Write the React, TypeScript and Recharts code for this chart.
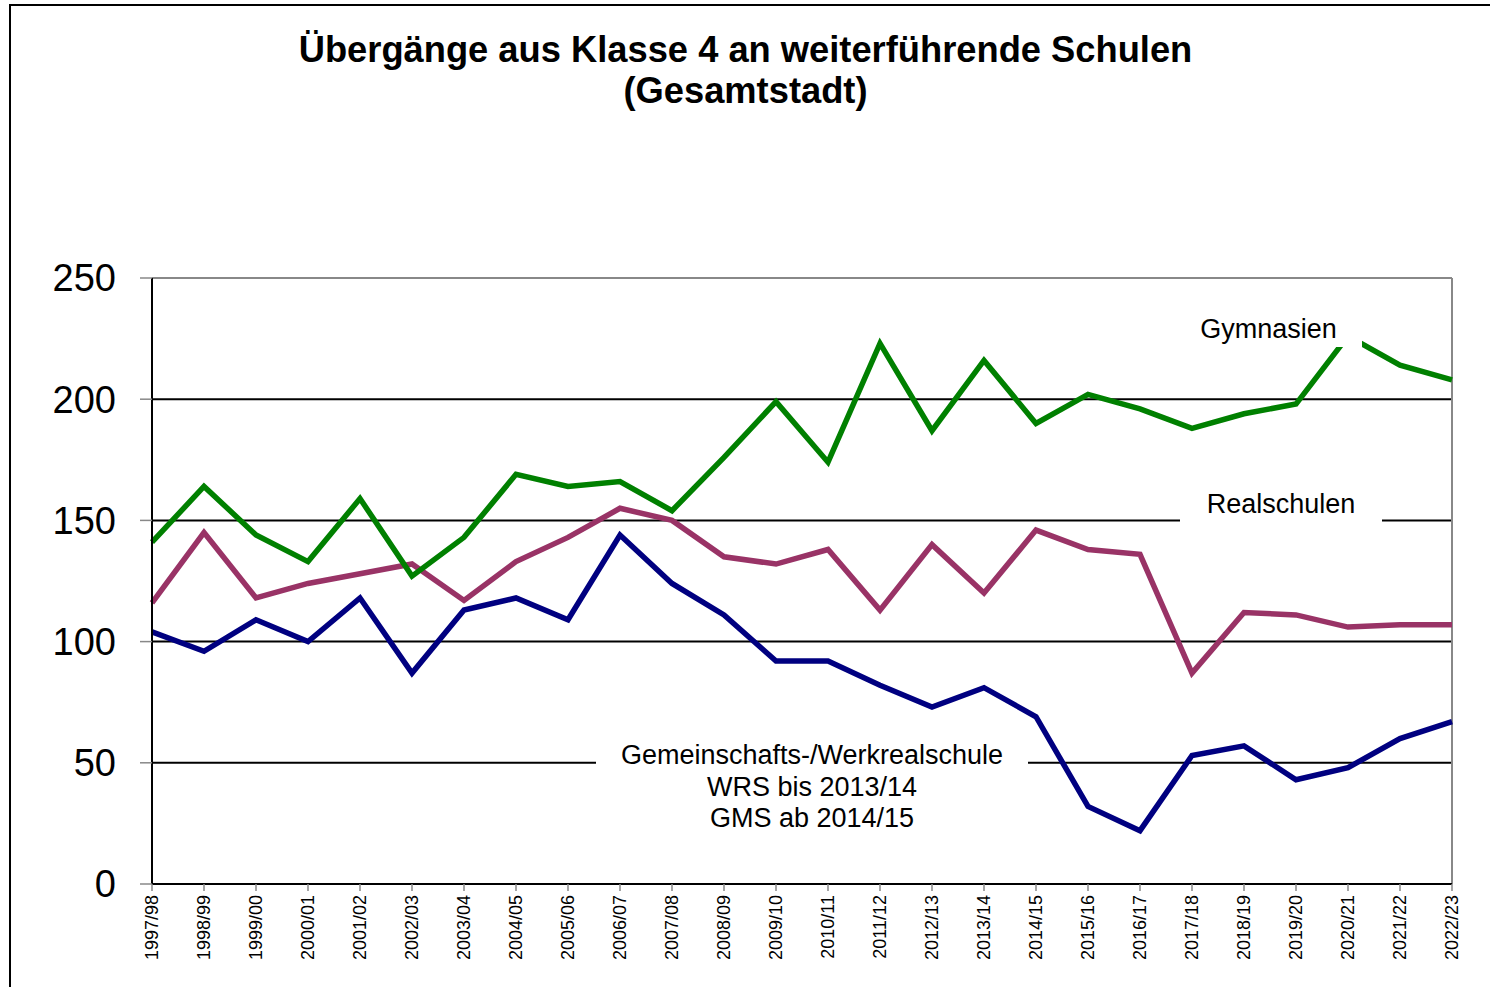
import React from 'react';
import { LineChart, Line, XAxis, YAxis, ReferenceLine } from 'recharts';

const years = [
  '1997/98', '1998/99', '1999/00', '2000/01', '2001/02', '2002/03', '2003/04', '2004/05', '2005/06',
  '2006/07', '2007/08', '2008/09', '2009/10', '2010/11', '2011/12', '2012/13', '2013/14', '2014/15',
  '2015/16', '2016/17', '2017/18', '2018/19', '2019/20', '2020/21', '2021/22', '2022/23',
];
const gymnasien = [141, 164, 144, 133, 159, 127, 143, 169, 164, 166, 154, 176, 199, 174, 223, 187, 216, 190, 202, 196, 188, 194, 198, 226, 214, 208];
const realschulen = [116, 145, 118, 124, 128, 132, 117, 133, 143, 155, 150, 135, 132, 138, 113, 140, 120, 146, 138, 136, 87, 112, 111, 106, 107, 107];
const werkreal = [104, 96, 109, 100, 118, 87, 113, 118, 109, 144, 124, 111, 92, 92, 82, 73, 81, 69, 32, 22, 53, 57, 43, 48, 60, 67];
const yTicks = [0, 50, 100, 150, 200, 250];
const gridValues = [50, 100, 150, 200];

const titleLines = ['Übergänge aus Klasse 4 an weiterführende Schulen', '(Gesamtstadt)'];
const gymLabel = 'Gymnasien';
const realLabel = 'Realschulen';
const wrsLabel = ['Gemeinschafts-/Werkrealschule', 'WRS bis 2013/14', 'GMS ab 2014/15'];

const data = years.map((year, i) => ({
  year,
  gym: gymnasien[i],
  real: realschulen[i],
  wrs: werkreal[i],
}));

const FONT = '"Liberation Sans", Arial, sans-serif';

const XTick = (props: any) => {
  const { x, y, payload } = props;
  return (
    <g transform={`translate(${x},${y})`}>
      <text
        transform="rotate(-90)"
        textAnchor="end"
        dy="0.36em"
        fontSize={18}
        fill="#000"
        fontFamily={FONT}
      >
        {payload.value}
      </text>
    </g>
  );
};

export default function App() {
  return (
    <div style={{ position: 'absolute', left: 0, top: 0, width: 1490, height: 987, overflow: 'hidden', background: '#fff', fontFamily: FONT }}>
      <LineChart
        width={1490}
        height={987}
        data={data}
        margin={{ top: 278, right: 38, bottom: 0, left: 52 }}
      >
        {gridValues.map((v) => (
          <ReferenceLine key={v} y={v} stroke="#000" strokeWidth={2} ifOverflow="visible" />
        ))}
        <ReferenceLine y={250} stroke="#888" strokeWidth={2} />
        <ReferenceLine x="2022/23" stroke="#888" strokeWidth={2} />
        <XAxis
          dataKey="year"
          type="category"
          scale="point"
          interval={0}
          height={103}
          tickSize={7}
          tickMargin={4}
          axisLine={{ stroke: '#000', strokeWidth: 2 }}
          tickLine={{ stroke: '#888', strokeWidth: 1.5 }}
          tick={<XTick />}
        />
        <YAxis
          type="number"
          domain={[0, 250]}
          ticks={yTicks}
          interval={0}
          width={100}
          tickSize={12}
          tickMargin={24}
          axisLine={{ stroke: '#000', strokeWidth: 2 }}
          tickLine={{ stroke: '#888', strokeWidth: 1.5 }}
          tick={{ fontSize: 38, fill: '#000', fontFamily: FONT }}
        />
        <Line type="linear" dataKey="real" stroke="#993366" strokeWidth={5.5} dot={false} isAnimationActive={false} />
        <Line type="linear" dataKey="wrs" stroke="#000080" strokeWidth={5.5} dot={false} isAnimationActive={false} />
        <Line type="linear" dataKey="gym" stroke="#008000" strokeWidth={5.5} dot={false} isAnimationActive={false} />
      </LineChart>
      <svg
        width={1490}
        height={987}
        style={{ position: 'absolute', left: 0, top: 0, pointerEvents: 'none' }}
      >
        <rect x={10} y={5} width={1500} height={1000} fill="none" stroke="#000" strokeWidth={2} />
        <text x={745.5} y={62} textAnchor="middle" fontSize={36.3} fontWeight="bold" fontFamily={FONT} fill="#000">
          {titleLines[0]}
        </text>
        <text x={745.5} y={103} textAnchor="middle" fontSize={36.3} fontWeight="bold" fontFamily={FONT} fill="#000">
          {titleLines[1]}
        </text>
        <rect x={1175} y={310} width={187} height={37} fill="#fff" />
        <text x={1268.5} y={338} textAnchor="middle" fontSize={27} fontFamily={FONT} fill="#000">
          {gymLabel}
        </text>
        <rect x={1180} y={488} width={202} height={34} fill="#fff" />
        <text x={1281} y={512.5} textAnchor="middle" fontSize={27} fontFamily={FONT} fill="#000">
          {realLabel}
        </text>
        <rect x={596} y={738} width={432} height={96} fill="#fff" />
        {wrsLabel.map((t, i) => (
          <text key={t} x={812} y={764 + i * 31.5} textAnchor="middle" fontSize={27} fontFamily={FONT} fill="#000">
            {t}
          </text>
        ))}
      </svg>
    </div>
  );
}
